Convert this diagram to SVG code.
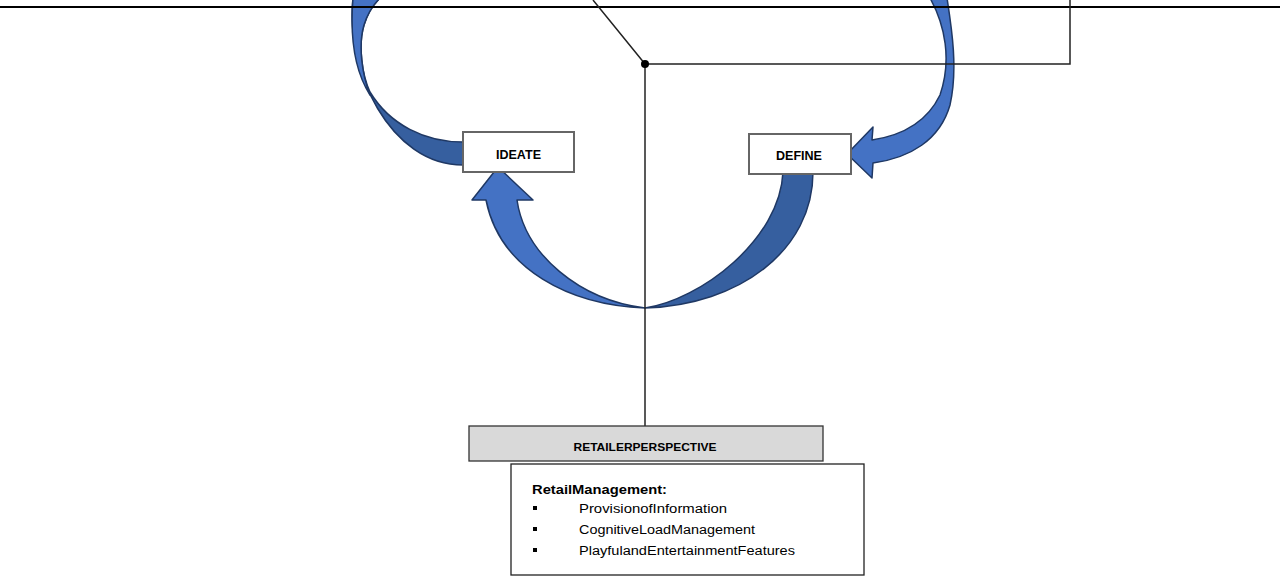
<svg xmlns="http://www.w3.org/2000/svg" width="1280" height="576" viewBox="0 0 1280 576">
<style>
.bg{fill:#ffffff}
.ln{fill:none;stroke:#222;stroke-width:1.5}
.arL{fill:#4472c4;stroke:#1f3864;stroke-width:1.5;stroke-linejoin:round}
.arD{fill:#365f9f;stroke:#1f3864;stroke-width:1.5;stroke-linejoin:round}
.box{fill:#ffffff;stroke:#666;stroke-width:2}
.hdr{fill:#d9d9d9;stroke:#333;stroke-width:1.3}
.lst{fill:#ffffff;stroke:#222;stroke-width:1.3}
.t{font-family:"Liberation Sans",Arial,sans-serif;fill:#000}
.b{font-weight:bold}
</style>
<rect class="bg" x="0" y="0" width="1280" height="576"/>
<g id="arrows">
  <path class="arD" d="M353,-2 C345,70 390,165 463,165 L463,142 C425,142 390,125 370,92 C362,75 358,45 364,25 C368,12 374,4 380,-2 Z"/>
  <path class="arL" d="M353,-2 C350,35 354,70 370,95 C362,75 358,45 364,25 C368,12 374,4 380,-2 Z"/>
  <path class="arL" d="M930,-2 C945,25 952,60 940,95 C928,120 905,135 872,140 L873,127 L847,154 L872,178 L873,163 C910,158 940,140 950,105 C958,70 952,30 947,-2 Z"/>
  <path class="arD" d="M783,172 L813,172 C813,250 740,305 645,308 C700,300 780,240 783,172 Z"/>
  <path class="arL" d="M645,308 C570,305 500,270 486,200 L472,200 L498,167 L533,200 L517,200 C525,255 580,300 645,308 Z"/>
</g>
<g id="connectors">
  <line x1="0" y1="7" x2="1280" y2="7" stroke="#000" stroke-width="2"/>
  <polyline class="ln" points="593,0 645,64 1070,64 1070,0"/>
  <line class="ln" x1="645" y1="64" x2="645" y2="426"/>
  <circle cx="645" cy="64" r="4" fill="#000"/>
</g>
<g id="ideate">
  <rect class="box" x="463" y="132" width="111" height="40"/>
  <text class="t b" x="518.5" y="159" font-size="12" text-anchor="middle" textLength="45" lengthAdjust="spacingAndGlyphs">IDEATE</text>
</g>
<g id="define">
  <rect class="box" x="749" y="134" width="102" height="40"/>
  <text class="t b" x="799" y="160" font-size="12" text-anchor="middle" textLength="46" lengthAdjust="spacingAndGlyphs">DEFINE</text>
</g>
<g id="retailer">
  <rect class="hdr" x="469" y="426" width="354" height="35"/>
  <text class="t b" x="645" y="451" font-size="11.5" text-anchor="middle" textLength="143" lengthAdjust="spacingAndGlyphs">RETAILERPERSPECTIVE</text>
</g>
<g id="management">
  <rect class="lst" x="511" y="464" width="353" height="111"/>
  <text class="t b" x="532" y="494" font-size="12.5" textLength="135" lengthAdjust="spacingAndGlyphs">RetailManagement:</text>
  <rect x="533" y="506" width="4" height="4" fill="#000"/>
  <rect x="533" y="527" width="4" height="4" fill="#000"/>
  <rect x="533" y="548" width="4" height="4" fill="#000"/>
  <text class="t" x="579" y="513" font-size="12.5" textLength="148" lengthAdjust="spacingAndGlyphs">ProvisionofInformation</text>
  <text class="t" x="579" y="534" font-size="12.5" textLength="176" lengthAdjust="spacingAndGlyphs">CognitiveLoadManagement</text>
  <text class="t" x="579" y="555" font-size="12.5" textLength="216" lengthAdjust="spacingAndGlyphs">PlayfulandEntertainmentFeatures</text>
</g>
</svg>
